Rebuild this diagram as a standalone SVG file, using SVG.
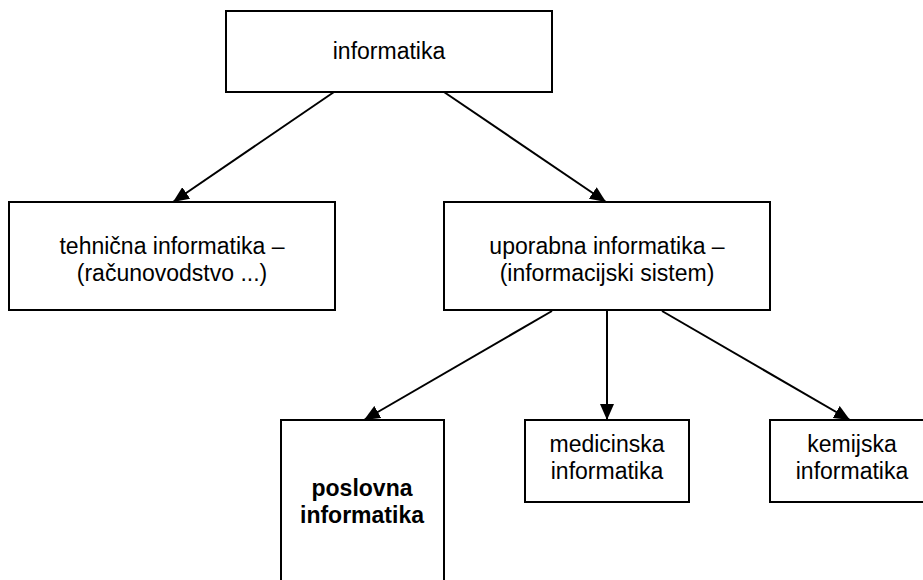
<svg xmlns="http://www.w3.org/2000/svg" width="923" height="580" viewBox="0 0 923 580">
<style>
.box{fill:#fff;stroke:#000;stroke-width:2}
.t{font-family:"Liberation Sans",Arial,sans-serif;font-size:23px;fill:#000;text-anchor:middle}
.b{font-weight:bold}
.c{stroke:#000;stroke-width:2;fill:none;marker-end:url(#ah)}
</style>
<defs>
<marker id="ah" markerUnits="userSpaceOnUse" markerWidth="18" markerHeight="14" refX="16" refY="7" orient="auto">
<path d="M0,0 L16,7 L0,14 Z" fill="#000"/>
</marker>
</defs>
<rect width="923" height="580" fill="#fff"/>
<g id="connectors">
<line class="c" x1="334" y1="92" x2="173" y2="202"/>
<line class="c" x1="444" y1="92" x2="606" y2="202"/>
<line class="c" x1="552" y1="311" x2="364" y2="420"/>
<line class="c" x1="607" y1="311" x2="607" y2="420"/>
<line class="c" x1="662" y1="311" x2="850" y2="420"/>
</g>
<g id="informatika">
<rect class="box" x="226" y="11" width="326" height="81"/>
<text class="t" x="389" y="59">informatika</text>
</g>
<g id="tehnicna">
<rect class="box" x="9" y="202" width="326" height="108"/>
<text class="t" x="172" y="254">tehnična informatika –</text>
<text class="t" x="172" y="281">(računovodstvo ...)</text>
</g>
<g id="uporabna">
<rect class="box" x="444" y="202" width="326" height="108"/>
<text class="t" x="607" y="254">uporabna informatika –</text>
<text class="t" x="607" y="281">(informacijski sistem)</text>
</g>
<g id="poslovna">
<rect class="box" x="281" y="420" width="163" height="170"/>
<text class="t b" x="362" y="496">poslovna</text>
<text class="t b" x="362" y="523">informatika</text>
</g>
<g id="medicinska">
<rect class="box" x="525" y="420" width="164" height="82"/>
<text class="t" x="607" y="452">medicinska</text>
<text class="t" x="607" y="479">informatika</text>
</g>
<g id="kemijska">
<rect class="box" x="770" y="420" width="164" height="82"/>
<text class="t" x="852" y="452">kemijska</text>
<text class="t" x="852" y="479">informatika</text>
</g>
</svg>
